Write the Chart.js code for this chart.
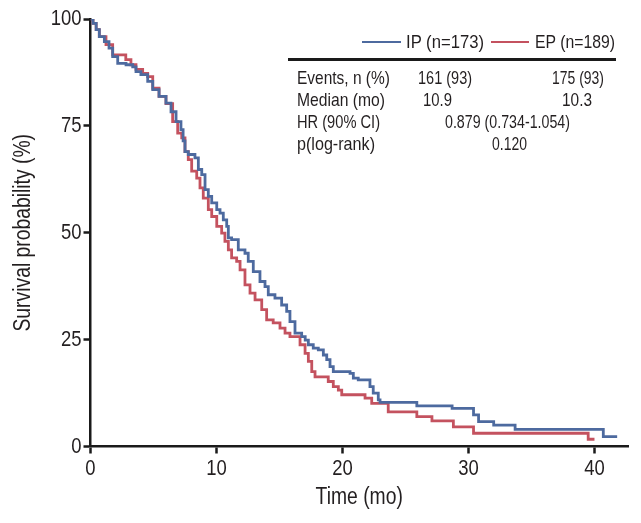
<!DOCTYPE html>
<html><head><meta charset="utf-8">
<script src="https://cdn.jsdelivr.net/npm/chart.js@4/dist/chart.umd.min.js"></script>
<style>
html,body{margin:0;padding:0;background:#fff;}
#wrap{position:relative;width:641px;height:523px;overflow:hidden;}
#c{position:absolute;left:0;top:0;}
.t{position:absolute;font-family:'Liberation Sans','Arial',sans-serif;font-size:18.5px;line-height:18px;color:#231f20;white-space:nowrap;}
.ln{position:absolute;height:3px;}
</style></head><body>
<div id="wrap">
<canvas id="c" width="641" height="523"></canvas>
<div id="ov"></div>
</div>
<script>
// ---- data ----
const seriesNames = ['IP (n=173)', 'EP (n=189)'];
const ipTime = [0,0.2,0.45,0.7,1.1,1.47,1.76,2.16,2.82,3.35,3.61,4.0,4.54,4.94,5.44,5.99,6.39,6.79,7.18,7.35,7.5,7.76,8.29,8.56,8.83,9.09,9.35,9.62,10.02,10.28,10.54,10.81,10.94,11.2,11.73,12.26,12.52,12.92,13.45,13.85,14.11,14.64,15.17,15.57,15.83,16.23,16.76,17.04,17.29,17.68,18.08,18.48,18.75,19.01,19.27,20.6,20.86,21.25,22.18,22.44,22.84,22.98,25.9,28.7,30.4,30.8,32.0,33.7,40.7,41.8];
const ipSurv = [100,99,97.5,95.9,94.7,93.2,91.2,89.6,89.3,88.8,87.7,87.0,85.4,83.5,81.9,80.3,78.3,76.0,74.1,71.5,69.0,68.3,67.5,64.8,63.6,60.1,58.5,57.0,55.4,54.6,53.0,51.5,48.8,48.4,46.0,45.2,43.3,40.9,38.6,37.4,35.5,34.7,33.1,31.6,29.2,26.5,25.7,24.9,23.8,23.0,22.6,21.4,20.3,18.7,17.5,17.1,16.0,15.6,14.0,12.5,10.9,10.3,9.5,8.9,7.4,5.8,5.0,4.0,2.3,2.3];
const epTime = [0,0.2,0.45,0.7,1.23,1.76,2.8,3.21,3.61,4.14,4.54,4.94,5.44,5.99,6.52,6.92,7.24,7.5,7.76,8.03,8.43,8.69,8.95,9.35,9.62,10.02,10.41,10.67,10.94,11.2,11.6,11.87,12.26,12.66,13.06,13.59,13.98,14.5,15.04,15.44,15.83,16.63,17.03,17.29,17.56,17.82,18.87,19.27,19.67,19.94,21.79,22.32,23.63,25.9,27.1,28.8,30.4,39.5,40.0];
const epSurv = [100,99,97.5,95.9,94.0,91.6,90.5,89.3,88.2,87.3,86.5,83.8,81.9,80.2,76.0,73.3,72.2,69.0,67.1,64.4,62.8,60.5,58.1,55.4,53.8,51.5,49.9,48.0,46.0,44.1,43.3,41.3,37.8,35.9,34.3,32.0,29.6,28.9,27.7,26.5,25.7,23.8,21.8,19.9,17.5,16.3,15.2,14.0,13.2,12.1,11.3,10.1,8.1,7.0,6.0,4.6,3.1,1.7,1.7];
const xTicks = [0,10,20,30,40];
const yTicks = [0,25,50,75,100];
const tableRows = ['Events, n (%)','Median (mo)','HR (90% CI)','p(log-rank)'];
const ipStats = ['161 (93)','10.9'];
const epStats = ['175 (93)','10.3'];
const hrText = '0.879 (0.734-1.054)';
const pText = '0.120';

// ---- style ----
const BLUE = '#4D6A9F', RED = '#C4525F', INK = '#231f20';
const FONT = "'Liberation Sans','Arial',sans-serif";
const SX = 0.84; // horizontal condensing of canvas text (the original uses a condensed face)

const canvas = document.getElementById('c');
const ctx = canvas.getContext('2d');
const origFill = ctx.fillText.bind(ctx);
ctx.fillText = function (t, x, y, mw) {
  this.save();
  this.translate(x, y);
  this.scale(SX, 1);
  origFill(t, 0, 0);
  this.restore();
};

const toPts = (t, s) => t.map((v, i) => ({x: v, y: s[i]}));

new Chart(canvas, {
  type: 'line',
  data: {
    datasets: [
      {label: seriesNames[0], data: toPts(ipTime, ipSurv), borderColor: BLUE, borderWidth: 2.8, stepped: true, pointRadius: 0, fill: false},
      {label: seriesNames[1], data: toPts(epTime, epSurv), borderColor: RED, borderWidth: 2.8, stepped: true, pointRadius: 0, fill: false}
    ]
  },
  options: {
    responsive: false,
    animation: false,
    devicePixelRatio: 1,
    layout: {padding: {top: 19, right: 13, left: 0, bottom: 0}},
    plugins: {legend: {display: false}, tooltip: {enabled: false}},
    scales: {
      x: {
        type: 'linear', min: 0, max: 42.66,
        afterBuildTicks: s => { s.ticks = xTicks.map(v => ({value: v})); },
        afterFit: s => { s.height = 76.5; },
        ticks: {color: INK, font: {family: FONT, size: 22}, padding: 2},
        grid: {display: true, drawOnChartArea: false, drawTicks: true, tickLength: 7, tickWidth: 2.5, tickColor: '#1a1a1a'},
        border: {display: true, color: '#1a1a1a', width: 2.5},
        title: {display: true, text: 'Time (mo)', color: INK, font: {family: FONT, size: 23}, padding: {top: 0, bottom: 12}}
      },
      y: {
        type: 'linear', min: 0, max: 100,
        afterBuildTicks: s => { s.ticks = yTicks.map(v => ({value: v})); },
        afterFit: s => { s.width = 90.5; },
        ticks: {color: INK, font: {family: FONT, size: 22}, padding: 2},
        grid: {display: true, drawOnChartArea: false, drawTicks: true, tickLength: 7, tickWidth: 2.5, tickColor: '#1a1a1a'},
        border: {display: true, color: '#1a1a1a', width: 2.5},
        title: {display: true, text: 'Survival probability (%)', color: INK, font: {family: FONT, size: 23}, padding: {top: 10, bottom: 0}}
      }
    }
  }
});

// ---- legend + table overlay (real text), each fitted to its width in the original ----
const ov = document.getElementById('ov');
function txt(s, x1, x2, yc) {
  const e = document.createElement('div');
  e.className = 't';
  e.textContent = s;
  e.style.top = (yc - 9) + 'px';
  ov.appendChild(e);
  const w = e.getBoundingClientRect().width;
  e.style.left = x1 + 'px';
  e.style.transformOrigin = 'left center';
  e.style.transform = 'scaleX(' + ((x2 - x1) / w).toFixed(3) + ')';
}
function line(x1, x2, y, col, h) {
  const e = document.createElement('div');
  e.className = 'ln';
  e.style.left = x1 + 'px'; e.style.width = (x2 - x1) + 'px';
  e.style.top = (y - h / 2) + 'px'; e.style.height = h + 'px';
  e.style.background = col;
  ov.appendChild(e);
}
line(362, 401, 42, BLUE, 2.8);
txt(seriesNames[0], 406, 484, 42);
line(491, 529, 42, RED, 2.8);
txt(seriesNames[1], 535, 615, 42);
line(288, 616, 59.5, '#1a1a1a', 2.5);
const rowY = [78, 100, 122, 144];
txt(tableRows[0], 297, 390, rowY[0]);
txt(tableRows[1], 297, 385, rowY[1]);
txt(tableRows[2], 297, 380, rowY[2]);
txt(tableRows[3], 297, 375, rowY[3]);
txt(ipStats[0], 418, 472, rowY[0]);
txt(epStats[0], 552, 604, rowY[0]);
txt(ipStats[1], 423, 452, rowY[1]);
txt(epStats[1], 562, 592, rowY[1]);
txt(hrText, 445, 570, rowY[2]);
txt(pText, 492, 527, rowY[3]);
</script>
</body></html>
